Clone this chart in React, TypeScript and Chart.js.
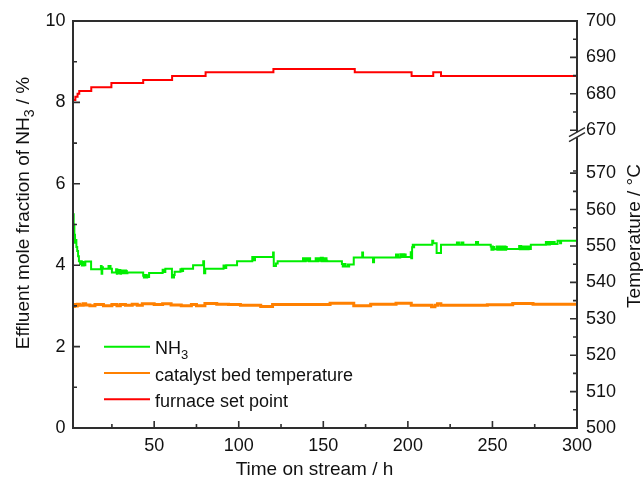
import React, { useEffect, useRef } from 'react';
import { Chart, registerables, LinearScale } from 'chart.js';

Chart.register(...registerables);

// ---------- axis definitions ----------
const X_MIN = 2;
const X_MAX = 300;
const X_MAJOR = [50, 100, 150, 200, 250, 300];
const X_MINOR = [25, 75, 125, 175, 225, 275];
const NH3_MIN = 0;
const NH3_MAX = 10;
const NH3_MAJOR = [0, 2, 4, 6, 8, 10];
const NH3_MINOR = [1, 3, 5, 7, 9];
const TEMP_MIN = 500;
const TEMP_MAX = 700;
const TEMP_MAJOR = [500, 510, 520, 530, 540, 550, 560, 570, 670, 680, 690, 700];
const TEMP_MINOR = [505, 515, 525, 535, 545, 555, 565, 575, 675, 685, 695];
const BREAK_LOW = 570;
const BREAK_HIGH = 670;
const BREAK_GAP = 11.8; // compressed size of the break, in axis units

// ---------- series (step data: value holds from its time until the next time) ----------
const nh3Times = [
  2.0, 2.4, 2.8, 3.2, 3.6, 4.0, 4.5, 5.0, 5.5, 6.2,
  6.8, 7.2, 7.6, 8.0, 8.4, 8.8, 9.3,
  12.7,
  18.5, 18.9, 19.3, 19.7,
  23.0, 23.4, 23.8, 24.2,
  25.0,
  27.5, 27.9, 28.3, 28.7, 29.6, 30.0, 30.4, 30.8, 31.8, 32.2, 32.6, 33.4, 33.8, 34.2,
  43.5, 43.9, 44.3, 44.7, 45.1, 45.5, 45.9, 46.3, 47.0,
  55.0, 55.4, 55.8, 56.2, 56.6,
  60.5, 60.9, 61.3, 61.7, 62.1,
  65.5, 65.9, 66.3, 66.7, 67.1,
  73.0,
  79.0, 79.5, 80.2,
  91.0, 91.4, 91.8, 92.2, 92.6,
  99.0,
  108.0, 108.4, 108.8, 109.2, 109.6,
  120.3, 120.7, 122.0, 123.0,
  138.0, 138.4, 138.8, 139.2, 139.6, 140.0, 141.0, 141.4, 141.8, 142.2,
  145.5, 145.9, 146.3, 146.7, 147.1, 147.5, 148.5, 148.9, 149.3, 149.7, 150.1, 150.5, 151.5, 151.9, 152.3,
  161.0, 161.5, 161.9, 162.3, 162.7, 163.1, 164.5, 164.9, 165.3,
  168.0,
  173.0, 173.5,
  179.4, 180.0,
  193.0, 193.4, 193.8, 194.2, 195.5, 195.9, 196.3, 196.7, 197.5, 197.9, 198.3, 198.7,
  201.7, 202.0, 202.5, 202.9, 203.3, 203.7,
  214.4, 215.0, 217.0, 219.6,
  229.0, 229.4, 229.8, 230.2, 231.6, 232.0, 232.4, 232.8,
  240.3, 240.7, 241.1, 241.5,
  249.0, 249.4, 249.8, 250.2, 250.6, 251.0, 252.5, 252.9, 253.3, 253.7, 254.1,
  254.5, 254.9, 255.3, 255.7, 256.1, 256.5, 256.9, 257.3, 257.7, 258.1, 258.5,
  265.8, 266.2, 266.6, 267.0, 267.4, 267.8, 268.2, 268.6,
  269.0, 269.4, 269.8, 270.2, 270.6, 271.0, 271.4, 271.8,
  272.7,
  281.6, 282.0, 282.4, 282.8, 283.2, 283.6, 284.0,
  284.4, 284.8, 285.2, 285.6, 286.0, 286.4, 286.8,
  288.5, 290.0, 290.6, 300.0,
];
const nh3Values = [
  5.25, 5.00, 4.75, 4.55, 4.62, 4.45, 4.35, 4.22, 4.10, 4.03,
  4.10, 3.99, 4.08, 3.99, 4.07, 4.00, 4.09,
  3.90,
  3.98, 3.79, 3.95, 3.91,
  3.98, 3.91, 3.98, 3.91,
  3.82,
  3.90, 3.79, 3.89, 3.80, 3.88, 3.79, 3.87, 3.80, 3.87, 3.80, 3.87, 3.86, 3.80, 3.82,
  3.74, 3.70, 3.76, 3.70, 3.76, 3.70, 3.75, 3.71, 3.81,
  3.89, 3.83, 3.89, 3.83, 3.91,
  3.70, 3.76, 3.70, 3.76, 3.84,
  3.90, 3.85, 3.91, 3.86, 3.91,
  4.00,
  4.10, 3.80, 3.91,
  3.99, 3.93, 3.99, 3.93, 4.00,
  4.10,
  4.20, 4.12, 4.20, 4.12, 4.20,
  4.31, 3.98, 4.04, 4.10,
  4.17, 4.10, 4.17, 4.10, 4.17, 4.11, 4.17, 4.10, 4.17, 4.10,
  4.17, 4.10, 4.17, 4.10, 4.17, 4.11, 4.18, 4.10, 4.18, 4.10, 4.17, 4.10, 4.17, 4.11, 4.10,
  4.03, 3.97, 4.03, 3.97, 4.03, 3.97, 4.02, 3.97, 4.02,
  4.19,
  4.31, 4.19,
  4.07, 4.19,
  4.26, 4.19, 4.26, 4.19, 4.27, 4.20, 4.27, 4.20, 4.27, 4.20, 4.26, 4.20,
  4.32, 4.17, 4.44, 4.50, 4.44, 4.50,
  4.60, 4.54, 4.30, 4.50,
  4.56, 4.50, 4.56, 4.50, 4.56, 4.50, 4.56, 4.50,
  4.57, 4.50, 4.57, 4.50,
  4.46, 4.38, 4.46, 4.38, 4.45, 4.39, 4.46, 4.38, 4.46, 4.38, 4.46,
  4.38, 4.45, 4.38, 4.46, 4.39, 4.45, 4.38, 4.46, 4.38, 4.45, 4.40,
  4.47, 4.39, 4.47, 4.39, 4.46, 4.39, 4.46, 4.39,
  4.46, 4.39, 4.46, 4.39, 4.46, 4.39, 4.46, 4.40,
  4.50,
  4.57, 4.51, 4.57, 4.51, 4.57, 4.51, 4.57,
  4.52, 4.57, 4.52, 4.57, 4.52, 4.57, 4.52,
  4.60, 4.54, 4.60, 4.60,
];

const bedTimes = [
  2, 2.8, 3.5, 4.5, 6, 8, 9.5, 12, 15, 20,
  25, 28, 30, 33, 37, 40, 43, 50, 55, 60,
  66, 72, 75, 80, 87, 94, 101, 113, 120, 154,
  168, 178, 193, 202, 214, 216, 217.5, 219.5, 247, 262,
  274, 300,
];
const bedTemps = [
  533.4, 533.9, 533.5, 534.0, 533.7, 534.1, 533.8, 533.6, 533.9, 533.6,
  533.9, 533.6, 533.9, 533.7, 534.0, 533.7, 534.1, 533.9, 534.1, 533.8,
  533.6, 533.9, 533.6, 534.2, 534.0, 533.9, 533.7, 533.4, 533.95, 534.3,
  533.6, 534.0, 534.3, 533.7, 533.3, 533.7, 534.1, 533.7, 533.85, 534.2,
  534.0, 534.0,
];

const setTimes = [2, 3.4, 4.7, 5.7, 12.8, 24.7, 43.5, 60.6, 80.4, 120.5, 168.6, 202.2, 215, 219.6, 300];
const setTemps = [678.3, 679.2, 680.0, 680.8, 681.8, 683.0, 683.8, 684.9, 685.9, 686.8, 685.9, 684.9, 685.9, 684.9, 684.9];

// ---------- texts ----------
const LABEL_NH3 = 'NH3';
const LABEL_BED = 'catalyst bed temperature';
const LABEL_SET = 'furnace set point';
const X_TITLE = 'Time on stream / h';
const Y_TITLE = 'Effluent mole fraction of NH3 / %';
const Y1_TITLE = 'Temperature / °C';

const COLOR_NH3 = '#00ee00';
const COLOR_BED = '#ff8000';
const COLOR_SET = '#ff0000';
const AXIS_COLOR = '#2e2e2e';
const TEXT_COLOR = '#111111';
const FONT_FAMILY = "'Liberation Sans', Arial, sans-serif";

// ---------- broken temperature scale ----------
function toVirtual(v: number): number {
  if (v <= BREAK_LOW) return v;
  if (v >= BREAK_HIGH) return v - (BREAK_HIGH - BREAK_LOW) + BREAK_GAP;
  return BREAK_LOW + ((v - BREAK_LOW) / (BREAK_HIGH - BREAK_LOW)) * BREAK_GAP;
}

class BrokenLinearScale extends LinearScale {
  static id = 'brokenLinear';
  static defaults = LinearScale.defaults;
  buildTicks() {
    (this as any).start = this.min;
    (this as any).end = this.max;
    return TEMP_MAJOR.map((value) => ({ value }));
  }
  getPixelForValue(value: number) {
    return super.getPixelForValue(toVirtual(value));
  }
}
Chart.register(BrokenLinearScale as any);

type Part = { text: string; sub?: boolean };
function chemParts(s: string): Part[] {
  const m = s.match(/^(.*NH)(\d)(.*)$/);
  if (!m) return [{ text: s }];
  const parts: Part[] = [{ text: m[1] }, { text: m[2], sub: true }];
  if (m[3]) parts.push({ text: m[3] });
  return parts;
}

function drawRich(ctx: CanvasRenderingContext2D, parts: Part[], x: number, y: number, align: 'left' | 'center', size: number) {
  const mainFont = `${size}px ${FONT_FAMILY}`;
  const subFont = `${Math.round(size * 0.72)}px ${FONT_FAMILY}`;
  const widths = parts.map((p) => {
    ctx.font = p.sub ? subFont : mainFont;
    return ctx.measureText(p.text).width;
  });
  const total = widths.reduce((a, b) => a + b, 0);
  let cx = align === 'center' ? x - total / 2 : x;
  ctx.textAlign = 'left';
  ctx.textBaseline = 'alphabetic';
  parts.forEach((p, i) => {
    ctx.font = p.sub ? subFont : mainFont;
    ctx.fillText(p.text, cx, y + (p.sub ? size * 0.28 : 0));
    cx += widths[i];
  });
}

const framePlugin = {
  id: 'originFrame',
  afterDraw(chart: any) {
    const { ctx, chartArea: a, scales } = chart;
    const sx = scales.x;
    const sy = scales.y;
    const st = scales.y1;
    ctx.save();

    // frame
    ctx.strokeStyle = AXIS_COLOR;
    ctx.lineWidth = 2;
    ctx.strokeRect(a.left, a.top, a.right - a.left, a.bottom - a.top);

    // inward ticks
    ctx.lineWidth = 1.6;
    ctx.beginPath();
    X_MAJOR.forEach((v) => { const px = sx.getPixelForValue(v); ctx.moveTo(px, a.bottom); ctx.lineTo(px, a.bottom - 7); });
    X_MINOR.forEach((v) => { const px = sx.getPixelForValue(v); ctx.moveTo(px, a.bottom); ctx.lineTo(px, a.bottom - 4); });
    NH3_MAJOR.forEach((v) => { const py = sy.getPixelForValue(v); ctx.moveTo(a.left, py); ctx.lineTo(a.left + 7, py); });
    NH3_MINOR.forEach((v) => { const py = sy.getPixelForValue(v); ctx.moveTo(a.left, py); ctx.lineTo(a.left + 4, py); });
    TEMP_MAJOR.forEach((v) => { const py = st.getPixelForValue(v); ctx.moveTo(a.right, py); ctx.lineTo(a.right - 7, py); });
    TEMP_MINOR.forEach((v) => { const py = st.getPixelForValue(v); ctx.moveTo(a.right, py); ctx.lineTo(a.right - 4, py); });
    ctx.stroke();

    // axis break on the temperature axis
    const b1 = st.getPixelForValue(BREAK_HIGH) + 2;
    const b2 = b1 + 5;
    ctx.fillStyle = '#ffffff';
    ctx.fillRect(a.right - 2, b1, 4, b2 - b1);
    ctx.strokeStyle = AXIS_COLOR;
    ctx.lineWidth = 1.5;
    ctx.beginPath();
    [b1, b2].forEach((b) => {
      ctx.moveTo(a.right - 8, b + 4.5);
      ctx.lineTo(a.right + 8, b - 4.5);
    });
    ctx.stroke();

    // tick labels
    ctx.fillStyle = TEXT_COLOR;
    ctx.font = `18px ${FONT_FAMILY}`;
    ctx.textAlign = 'center';
    ctx.textBaseline = 'alphabetic';
    X_MAJOR.forEach((v) => ctx.fillText(String(v), sx.getPixelForValue(v), a.bottom + 22.5));
    ctx.textAlign = 'right';
    ctx.textBaseline = 'middle';
    NH3_MAJOR.forEach((v) => ctx.fillText(String(v), a.left - 7.5, sy.getPixelForValue(v)));
    ctx.textAlign = 'left';
    TEMP_MAJOR.forEach((v) => ctx.fillText(String(v), a.right + 9, st.getPixelForValue(v)));

    // axis titles
    ctx.textAlign = 'center';
    ctx.textBaseline = 'alphabetic';
    ctx.font = `19px ${FONT_FAMILY}`;
    ctx.fillText(X_TITLE, (a.left + a.right) / 2 - 10.5, a.bottom + 47);

    ctx.save();
    ctx.translate(28.5, 213);
    ctx.rotate(-Math.PI / 2);
    drawRich(ctx, chemParts(Y_TITLE), 0, 0, 'center', 19);
    ctx.restore();

    ctx.save();
    ctx.translate(639.5, 236);
    ctx.rotate(-Math.PI / 2);
    drawRich(ctx, [{ text: Y1_TITLE }], 0, 0, 'center', 19);
    ctx.restore();

    // legend (inside plot, lower left)
    const datasets = chart.data.datasets;
    datasets.forEach((ds: any, i: number) => {
      const ly = 346.7 + i * 26.3;
      ctx.strokeStyle = ds.borderColor;
      ctx.lineWidth = 2;
      ctx.beginPath();
      ctx.moveTo(104, ly);
      ctx.lineTo(150, ly);
      ctx.stroke();
      ctx.fillStyle = TEXT_COLOR;
      drawRich(ctx, chemParts(ds.label), 155, ly + 7.5, 'left', 18);
    });

    ctx.restore();
  },
};

export default function App() {
  const ref = useRef<HTMLCanvasElement>(null);
  useEffect(() => {
    const canvas = ref.current;
    if (!canvas) return;
    const chart = new Chart(canvas, {
      type: 'line',
      data: {
        datasets: [
          {
            label: LABEL_NH3,
            data: nh3Times.map((t, i) => ({ x: t, y: nh3Values[i] })),
            yAxisID: 'y',
            borderColor: COLOR_NH3,
            borderWidth: 2,
            stepped: true,
            pointRadius: 0,
            fill: false,
          },
          {
            label: LABEL_BED,
            data: bedTimes.map((t, i) => ({ x: t, y: bedTemps[i] })),
            yAxisID: 'y1',
            borderColor: COLOR_BED,
            borderWidth: 3,
            stepped: true,
            pointRadius: 0,
            fill: false,
          },
          {
            label: LABEL_SET,
            data: setTimes.map((t, i) => ({ x: t, y: setTemps[i] })),
            yAxisID: 'y1',
            borderColor: COLOR_SET,
            borderWidth: 2,
            stepped: true,
            pointRadius: 0,
            fill: false,
          },
        ],
      },
      options: {
        animation: false,
        responsive: false,
        devicePixelRatio: 1,
        events: [],
        layout: { padding: { top: 21, left: 0, right: 0, bottom: 0 } },
        plugins: { legend: { display: false }, tooltip: { enabled: false } },
        scales: {
          x: {
            type: 'linear',
            min: X_MIN,
            max: X_MAX,
            grid: { display: false },
            border: { display: false },
            ticks: { display: false },
            afterFit: (s: any) => { s.height = 49; },
          },
          y: {
            type: 'linear',
            position: 'left',
            min: NH3_MIN,
            max: NH3_MAX,
            grid: { display: false },
            border: { display: false },
            ticks: { display: false },
            afterFit: (s: any) => { s.width = 73; },
          },
          y1: {
            type: 'brokenLinear' as any,
            position: 'right',
            min: TEMP_MIN,
            max: toVirtual(TEMP_MAX),
            grid: { display: false },
            border: { display: false },
            ticks: { display: false },
            afterFit: (s: any) => { s.width = 66; },
          } as any,
        },
      },
      plugins: [framePlugin],
    });
    return () => chart.destroy();
  }, []);
  return (
    <div style={{ position: 'absolute', left: 0, top: 0, width: 643, height: 477, background: '#fff' }}>
      <canvas ref={ref} width={643} height={477} style={{ display: 'block', width: 643, height: 477 }} />
    </div>
  );
}
